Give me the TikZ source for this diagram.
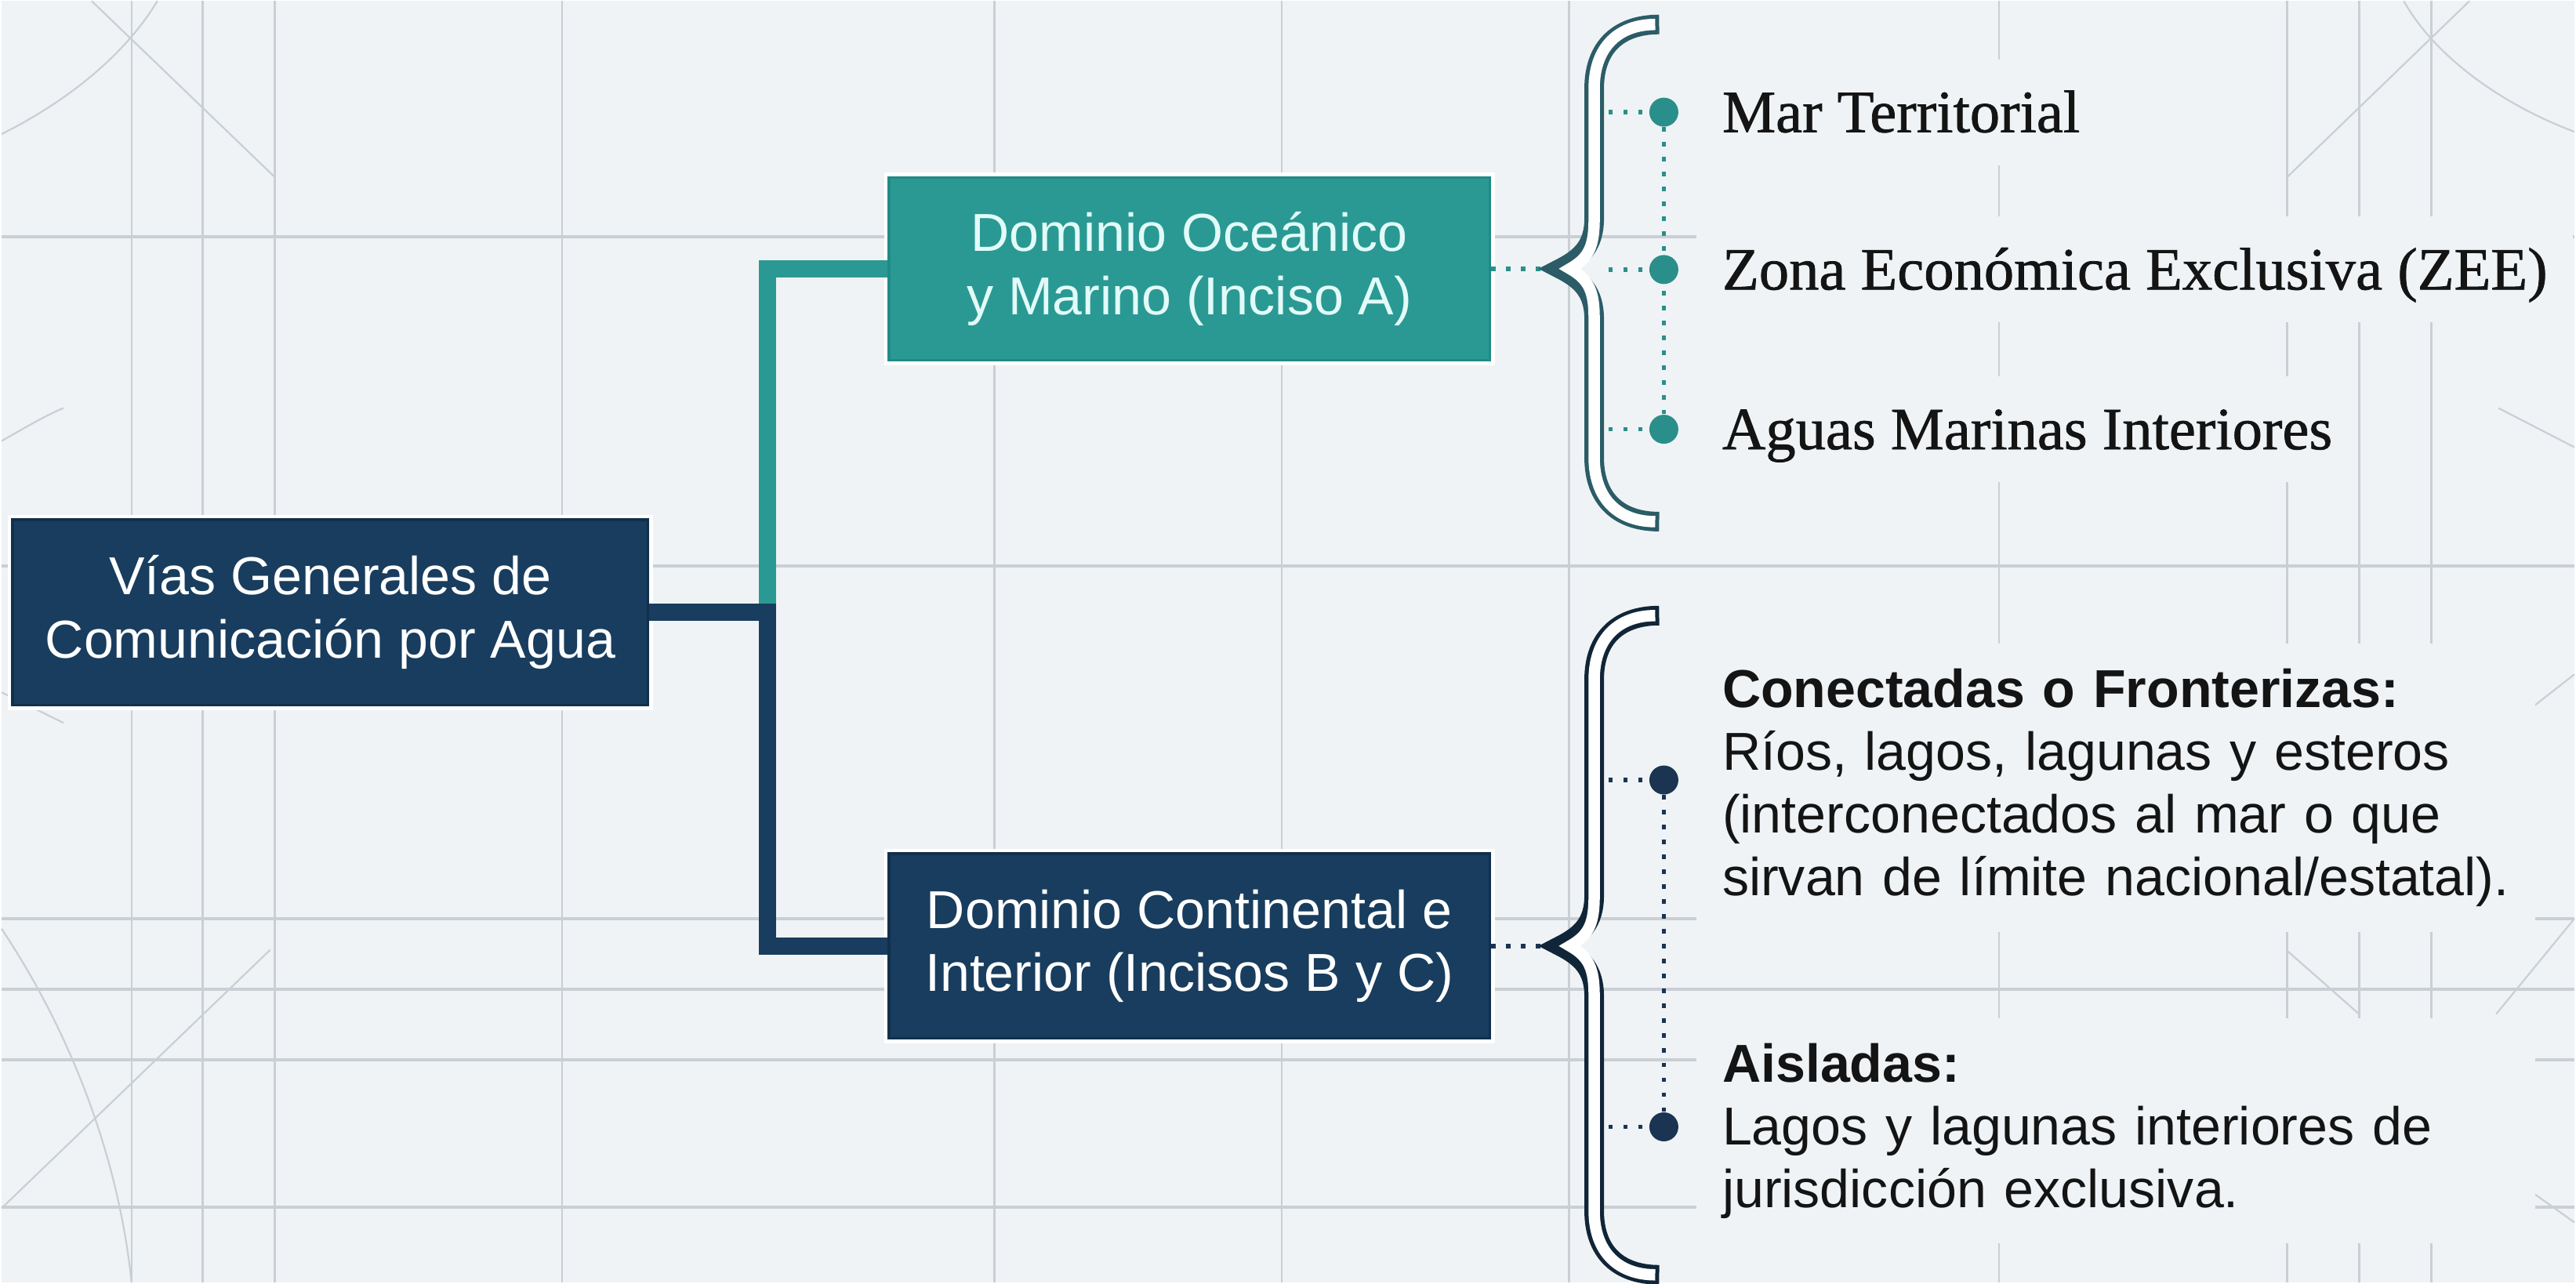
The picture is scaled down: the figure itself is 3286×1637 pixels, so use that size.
\documentclass[tikz,border=0pt]{standalone}
\usepackage{fontspec}
\setmainfont{Liberation Serif}[FakeBold=1]
\newfontfamily\sansf{Liberation Sans}
\pgfdeclarelayer{back}
\pgfsetlayers{back,main}
\definecolor{bg}{HTML}{EFF3F5}
\definecolor{gridc}{HTML}{CACFD5}
\definecolor{navy}{HTML}{183D5E}
\definecolor{navyedge}{HTML}{10304C}
\definecolor{tealc}{HTML}{2A9994}
\definecolor{tealedge}{HTML}{218A85}
\definecolor{tealtext}{HTML}{E2FBF8}
\definecolor{bracetop}{HTML}{2B5C67}
\definecolor{bracebot}{HTML}{112538}
\definecolor{dottop}{HTML}{2A8F8A}
\definecolor{dotbot}{HTML}{1A3452}
\definecolor{ink}{HTML}{141414}
\tikzset{
  gridh/.style={draw=gridc, line width=0.04cm},
  gridv/.style={draw=gridc, line width=0.025cm},
  deco/.style={draw=gridc, line width=0.022cm},
  box/.style={rectangle, inner sep=0pt, align=center,
    font=\sansf\fontsize{19.4}{23}\selectfont, line width=0.035cm},
  halo/.style={draw=white, line width=0.09cm},
  link/.style={line width=0.22cm, line cap=butt, line join=miter},
  dotline/.style={line width=0.055cm, dash pattern=on 0.055cm off 0.135cm, line cap=butt},
  bullet/.style={circle, inner sep=0pt, minimum size=0.37cm},
  item/.style={anchor=west, fill=bg, inner xsep=0.33cm, inner ysep=0.42cm,
    text height=0.51cm, text depth=0cm, text=ink, font=\fontsize{21.8}{26}\selectfont},
  block/.style={anchor=west, fill=bg, inner xsep=0.33cm, inner ysep=0.32cm,
    text width=10.05cm, align=left, text=ink, font=\sansf\fontsize{19.4}{22.8}\selectfont},
  braceout/.style={line width=0.25cm, line join=miter, miter limit=20, line cap=butt},
  bracein/.style={line width=0.145cm, line join=miter, miter limit=20, line cap=butt, white,
    shorten <=0.05cm, shorten >=0.05cm},
}
% #1 top y, #2 tip y, #3 bottom y, #4 colour
\newcommand{\mybrace}[4]{%
  \draw[braceout, #4] (2117,#1) .. controls (2066,#1) and (2034,#1+28) .. (2034,#1+82)
    -- (2034,#2-64) .. controls (2034,#2-30) and (2018,#2-14) .. (1990,#2)
    .. controls (2018,#2+14) and (2034,#2+30) .. (2034,#2+64)
    -- (2034,#3-82) .. controls (2034,#3-28) and (2066,#3) .. (2117,#3);
  \draw[bracein] (2117,#1) .. controls (2066,#1) and (2034,#1+28) .. (2034,#1+82)
    -- (2034,#2-64) .. controls (2034,#2-30) and (2028,#2-14) .. (2003,#2)
    .. controls (2028,#2+14) and (2034,#2+30) .. (2034,#2+64)
    -- (2034,#3-82) .. controls (2034,#3-28) and (2066,#3) .. (2117,#3);
}
\begin{document}
\begin{tikzpicture}[x=0.01cm,y=-0.01cm]
\begin{pgfonlayer}{back}
\fill[bg] (0,0) rectangle (3286,1637);
\foreach \y in {301,722,1172,1262,1352,1541} \draw[gridh] (0,\y) -- (3286,\y);
\foreach \x in {166,257,349,716,1268,1635,2002,2551,2919,3011,3103} \draw[gridv] (\x,0) -- (\x,1637);
% decorative construction lines
\draw[deco] (115,0) -- (349,225);
\draw[deco] (0,170) .. controls (90,125) and (160,65) .. (199,0);
\draw[deco] (0,562) .. controls (30,545) and (55,530) .. (79,520);
\draw[deco] (0,883) -- (79,922);
\draw[deco] (343,1212) -- (0,1542);
\draw[deco] (0,1185) .. controls (90,1320) and (150,1480) .. (166,1637);
\draw[deco] (2919,225) -- (3152,0);
\draw[deco] (3068,0) .. controls (3110,75) and (3200,135) .. (3286,167);
\draw[deco] (3189,520) -- (3286,570);
\draw[deco] (2919,1213) -- (3011,1294);
\draw[deco] (3186,1294) -- (3286,1172);
\draw[deco] (3231,903) -- (3286,860);
\draw[deco] (3231,1521) -- (3286,1560);
\end{pgfonlayer}

\useasboundingbox (0,0) rectangle (3286,1637);

% main boxes
\node[box, fill=navy, draw=navyedge, text=white, minimum width=8.11cm, minimum height=2.37cm]
  (root) at (420,781) {Vías Generales de\\Comunicación por Agua};
\node[box, fill=tealc, draw=tealedge, text=tealtext, minimum width=7.67cm, minimum height=2.33cm]
  (ocean) at (1517,342) {Dominio Oceánico\\y Marino (Inciso A)};
\node[box, fill=navy, draw=navyedge, text=white, minimum width=7.67cm, minimum height=2.36cm]
  (cont) at (1517,1207) {Dominio Continental e\\Interior (Incisos B y C)};

\coordinate (j) at (978,781);
\coordinate (tipA) at (1975,342);
\coordinate (tipB) at (1975,1207);

% bullets
\node[bullet, fill=dottop] (a1) at (2123,142) {};
\node[bullet, fill=dottop] (a2) at (2123,343) {};
\node[bullet, fill=dottop] (a3) at (2123,547) {};
\node[bullet, fill=dotbot] (b1) at (2123,995) {};
\node[bullet, fill=dotbot] (b2) at (2123,1438) {};
\coordinate (sa1) at (2052,142);
\coordinate (sa2) at (2052,343);
\coordinate (sa3) at (2052,547);
\coordinate (sb1) at (2052,995);
\coordinate (sb2) at (2052,1438);

\begin{pgfonlayer}{back}
\draw[halo] (root.south west) rectangle (root.north east);
\draw[halo] (ocean.south west) rectangle (ocean.north east);
\draw[halo] (cont.south west) rectangle (cont.north east);
\draw[link, tealc] (j) |- (ocean.west);
\draw[link, navy] (root.east) -- (j) |- (cont.west);
\draw[dotline, dottop] (ocean.east) -- (tipA);
\draw[dotline, dotbot] (cont.east) -- (tipB);
\draw[dotline, dottop] (sa1) -- (a1);
\draw[dotline, dottop] (sa2) -- (a2);
\draw[dotline, dottop] (sa3) -- (a3);
\draw[dotline, dottop] (a1) -- (a3);
\draw[dotline, dotbot] (sb1) -- (b1);
\draw[dotline, dotbot] (sb2) -- (b2);
\draw[dotline, dotbot] (b1) -- (b2);
\end{pgfonlayer}

% braces
\mybrace{30}{342}{665}{bracetop}
\mybrace{785}{1207}{1627}{bracebot}

% item texts
\node[item] (m1) at (2164,142) {Mar Territorial};
\node[item] (m2) at (2164,343) {Zona Económica Exclusiva (ZEE)};
\node[item] (m3) at (2164,547) {Aguas Marinas Interiores};

\node[block] (c1) at (2164,1005) {\textbf{Conectadas o Fronterizas:}\\Ríos, lagos, lagunas y esteros\\(interconectados al mar o que\\sirvan de límite nacional/estatal).};
\node[block] (c2) at (2164,1443) {\textbf{Aisladas:}\\Lagos y lagunas interiores de\\jurisdicción exclusiva.};
\end{tikzpicture}
\end{document}
